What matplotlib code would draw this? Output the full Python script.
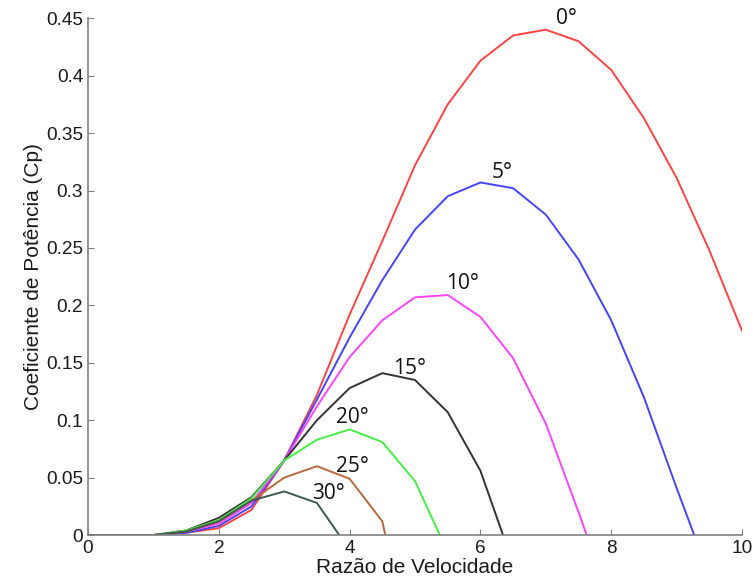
import matplotlib
matplotlib.use('Agg')
import matplotlib.pyplot as plt
import numpy as np

# tip speed ratio grid and Cp curves for each pitch angle
x = [0, 0.5, 1, 1.5, 2, 2.5, 3, 3.5, 4, 4.5, 5, 5.5, 6, 6.5, 7, 7.5, 8, 8.5, 9, 9.5, 10]
cp_0 = [0, 0, 0, 0.002, 0.006, 0.022, 0.065, 0.122, 0.192, 0.256, 0.322, 0.375, 0.413, 0.435, 0.44, 0.43, 0.405, 0.363, 0.311, 0.248, 0.178]
cp_5 = [0, 0, 0, 0.002, 0.008, 0.025, 0.065, 0.118, 0.172, 0.222, 0.266, 0.295, 0.307, 0.302, 0.279, 0.24, 0.187, 0.12, 0.041, -0.035]
cp_10 = [0, 0, 0, 0.003, 0.01, 0.028, 0.065, 0.112, 0.155, 0.187, 0.207, 0.209, 0.19, 0.154, 0.097, 0.02, -0.06]
cp_15 = [0, 0, 0, 0.004, 0.015, 0.033, 0.065, 0.1, 0.128, 0.141, 0.135, 0.107, 0.056, -0.025]
cp_20 = [0, 0, 0, 0.004, 0.013, 0.032, 0.065, 0.083, 0.092, 0.081, 0.047, -0.015]
cp_25 = [0, 0, 0, 0.003, 0.012, 0.03, 0.05, 0.06, 0.049, 0.012, -0.12]
cp_30 = [0, 0, 0, 0.003, 0.012, 0.03, 0.038, 0.028, -0.013]

labels = ['0°', '5°', '10°', '15°', '20°', '25°', '30°']
label_x = [7.31, 6.33, 5.72, 4.92, 4.04, 4.04, 3.68]
label_y = [0.45, 0.316, 0.219, 0.145, 0.102, 0.06, 0.036]
colors = ['#ff4444', '#4444ff', '#ff44ff', '#333333', '#44ee44', '#b8683e', '#3d5a50']

curves = [cp_0, cp_5, cp_10, cp_15, cp_20, cp_25, cp_30]

fig = plt.figure(figsize=(7.55, 5.88), dpi=100)
ax = fig.add_axes([0.1166, 0.090, 0.8662, 0.879])

for cp, c in zip(curves, colors):
	ax.plot(x[:len(cp)], cp, color=c, lw=1.4)

for lab, lx, ly in zip(labels, label_x, label_y):
	ax.text(lx, ly, lab, fontsize=15, family='Open Sans', ha='center', va='center', color='#111111')

ax.set_xlim(0, 10)
ax.set_ylim(0, 0.45)
ax.set_xticks([0, 2, 4, 6, 8, 10])
ax.set_yticks(np.arange(0, 0.451, 0.05))
ax.set_yticklabels(['0', '0.05', '0.1', '0.15', '0.2', '0.25', '0.3', '0.35', '0.4', '0.45'])

for s in ['top', 'right']:
	ax.spines[s].set_visible(False)
for s in ['left', 'bottom']:
	ax.spines[s].set_color('#808080')
	ax.spines[s].set_linewidth(1.2)
ax.tick_params(direction='in', length=4, color='#808080', labelsize=13.7, labelcolor='#1a1a1a')
for t in ax.get_xticklabels() + ax.get_yticklabels():
	t.set_family('Liberation Sans')

ax.set_xlabel('Razão de Velocidade', fontsize=15, family='Liberation Sans', color='#1a1a1a', labelpad=1)
ax.set_ylabel('Coeficiente de Potência (Cp)', fontsize=15, family='Liberation Sans', color='#1a1a1a', labelpad=2)

fig.savefig('out.png', dpi=100)
